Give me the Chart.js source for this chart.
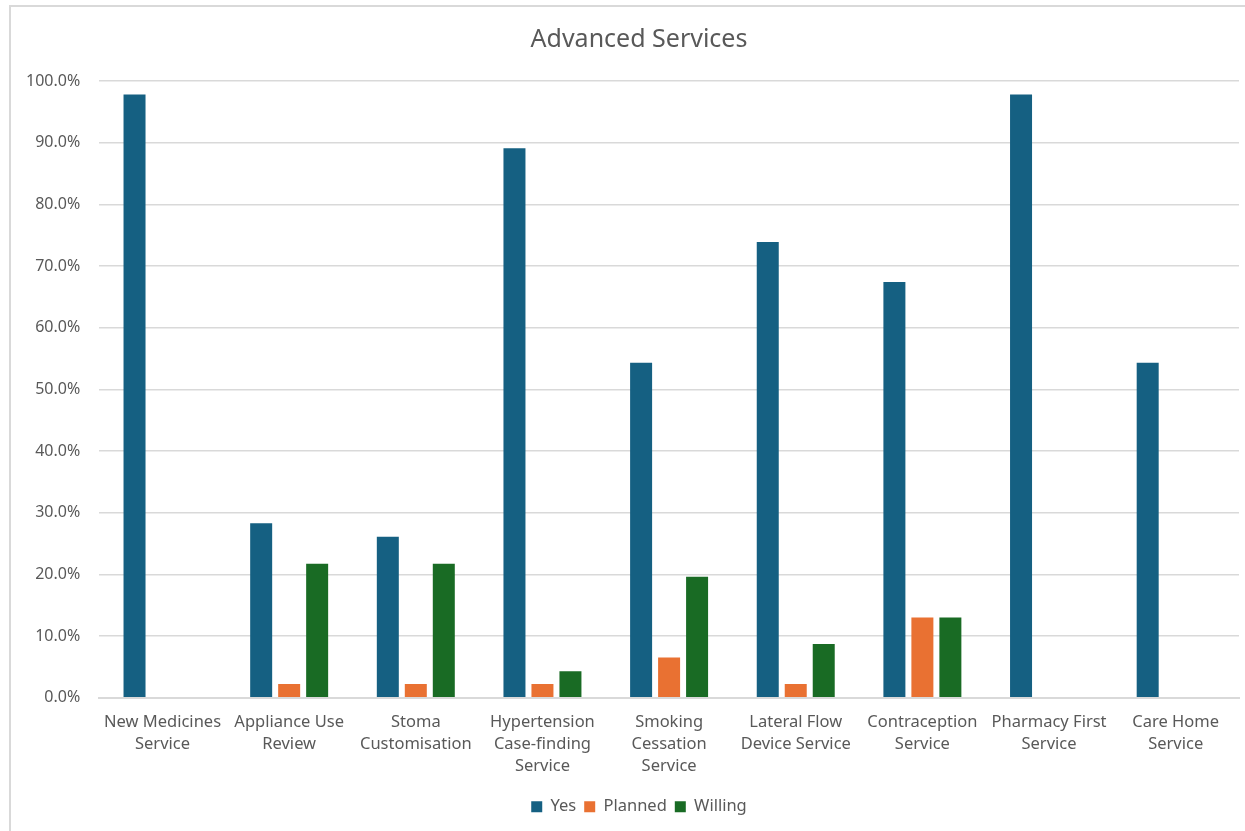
<!DOCTYPE html>
<html>
<head>
<meta charset="utf-8">
<script src="https://cdn.jsdelivr.net/npm/chart.js@4"></script>
<style>
  html, body { margin: 0; padding: 0; background: #fff; overflow: hidden; }
  #frame { position: absolute; left: 9px; top: 5px; width: 1262px; height: 840px;
           border: 2px solid #d9d9d9; box-sizing: border-box; }
  #wrap { position: absolute; left: 0; top: 0; width: 1275px; height: 831px; }
</style>
</head>
<body>
<div id="frame"></div>
<div id="wrap"><canvas id="myChart"></canvas></div>
<script>
'use strict';

let categories = [
  ['New Medicines', 'Service'],
  ['Appliance Use', 'Review'],
  ['Stoma', 'Customisation'],
  ['Hypertension', 'Case-finding', 'Service'],
  ['Smoking', 'Cessation', 'Service'],
  ['Lateral Flow', 'Device Service'],
  ['Contraception', 'Service'],
  ['Pharmacy First', 'Service'],
  ['Care Home', 'Service']
];

let yesArr = [97.8, 28.3, 26.1, 89.1, 54.3, 73.9, 67.4, 97.8, 54.3];
let plannedArr = [null, 2.2, 2.2, 2.2, 6.5, 2.2, 13.0, null, null];
let willingArr = [null, 21.7, 21.7, 4.3, 19.6, 8.7, 13.0, null, null];

let grey = '#595959';
let fontName = '"Noto Sans", "Open Sans", sans-serif';

function createChart() {
    let ctx = document.getElementById('myChart').getContext('2d');

    let myChart = new Chart(ctx, {
        type: 'bar',
        data: {
            labels: categories,
            datasets: [
                { label: 'Yes', data: yesArr, backgroundColor: '#156082' },
                { label: 'Planned', data: plannedArr, backgroundColor: '#e97132' },
                { label: 'Willing', data: willingArr, backgroundColor: '#196b24' }
            ]
        },
        options: {
            responsive: true,
            maintainAspectRatio: false,
            animation: false,
            categoryPercentage: 0.663,
            barPercentage: 0.786,
            layout: { padding: { left: 7, right: 4, top: 14, bottom: 6 } },
            plugins: {
                title: {
                    display: true,
                    text: 'Advanced Services',
                    color: grey,
                    font: { family: fontName, size: 25, weight: 'normal' },
                    padding: { top: 11, bottom: 26 }
                },
                legend: {
                    position: 'bottom',
                    labels: {
                        color: grey,
                        font: { family: fontName, size: 16.5 },
                        boxWidth: 11,
                        boxHeight: 11,
                        padding: 8
                    }
                },
                tooltip: { enabled: false }
            },
            scales: {
                x: {
                    grid: { display: false, drawTicks: false },
                    border: { color: '#d9d9d9', width: 2 },
                    ticks: {
                        color: grey,
                        maxRotation: 0,
                        autoSkip: false,
                        font: { family: fontName, size: 16.5, lineHeight: 1.35 },
                        padding: 13
                    }
                },
                y: {
                    min: 0,
                    max: 100,
                    grid: { color: '#d9d9d9', lineWidth: 1.5, drawTicks: false },
                    border: { display: false },
                    ticks: {
                        stepSize: 10,
                        color: grey,
                        font: { family: fontName, size: 16 },
                        padding: 19,
                        callback: function (v) { return v.toFixed(1) + '%'; }
                    }
                },
                // empty right-hand axis, only keeps the plot clear of the frame's right side
                yRight: {
                    position: 'right',
                    grid: { display: false },
                    border: { display: false },
                    ticks: { display: false },
                    afterFit: function (scale) { scale.width = 32; }
                }
            }
        }
    });
}

createChart();
</script>
</body>
</html>
